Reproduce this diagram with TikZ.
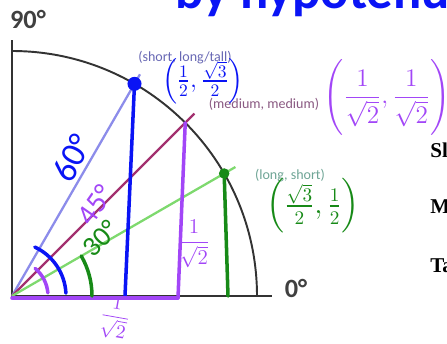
\documentclass[tikz,border=0pt]{standalone}
\usepackage{amsmath}
\usepackage{fontspec}
\setmainfont{Carlito}
\newfontfamily\sideserif{Liberation Serif}
\usetikzlibrary{calc}

\definecolor{rayblue}{HTML}{8C8CEA}
\definecolor{raymag}{HTML}{A3306F}
\definecolor{raygreen}{HTML}{7ED96E}
\definecolor{lblblue}{HTML}{6868B4}
\definecolor{lblmag}{HTML}{8A5A82}
\definecolor{lblgreen}{HTML}{6FA596}
\definecolor{inkblue}{HTML}{0A14F5}
\definecolor{inkviolet}{HTML}{A246F7}
\definecolor{inkgreen}{HTML}{178A17}

\newcommand{\halfsq}{\frac{1}{\sqrt{2}}}
\newcommand{\ptBlue}{$\Bigl(\frac{1}{2},\frac{\sqrt{3}}{2}\Bigr)$}
\newcommand{\ptMed}{$\displaystyle\Biggl(\halfsq,\halfsq\Biggr)$}
\newcommand{\ptGreen}{$\Bigl(\frac{\sqrt{3}}{2},\frac{1}{2}\Bigr)$}
\newcommand{\sideHalf}{$\displaystyle\halfsq$}

\begin{document}
\begin{tikzpicture}[
  x=0.02cm, y=0.02cm,
  axisline/.style = {line width=1.1pt, color=black!80},
  ray/.style      = {line width=1.3pt, color=#1},
  printlbl/.style = {font=\fontsize{8}{9}\selectfont, color=#1, inner sep=0pt},
  deglbl/.style   = {font=\fontsize{15}{17}\selectfont\bfseries, color=black!75, inner sep=0pt},
  sidelbl/.style  = {font=\sideserif\fontsize{12}{14}\selectfont\bfseries, anchor=base west, inner sep=0pt},
  pen/.style      = {line width=2pt, color=#1, line cap=round, line join=round},
  ink/.style      = {color=#1, inner sep=0pt},
  inkdot/.style   = {circle, fill=#1, inner sep=0pt},
]
\useasboundingbox (-12,-47) rectangle (435,296);

%% Axes and quarter circle
\coordinate (O) at (0,0);
\coordinate (yTop) at (0,256);
\coordinate (xEnd) at (260,0);
\coordinate (aTop) at (0,245);
\draw[axisline] (yTop) -- (O) -- (xEnd);
\draw[axisline] (aTop) arc[start angle=90, end angle=0, radius=245];

\node[deglbl] (d90) at (16,277) {90°};
\node[deglbl] (d0)  at (284,8) {0°};

%% Rays through the circle
\coordinate (P60) at (60:245);
\coordinate (P45) at (45:245);
\coordinate (P30) at (30:245);
\coordinate (E60) at (60:256);
\coordinate (E45) at (45:258);
\coordinate (E30) at (30:258);
\draw[ray=rayblue]  (O) -- (E60);
\draw[ray=raymag]   (O) -- (E45);
\draw[ray=raygreen] (O) -- (E30);

\node[printlbl=lblblue]  (lShort) at (173,238) {(short, long/tall)};
\node[printlbl=lblmag]   (lMed)   at (252,192) {(medium, medium)};
\node[printlbl=lblgreen] (lLong)  at (278,120) {(long, short)};

%% Cut-off text at the right edge
\node[sidelbl] (sS) at (418,139) {Sl};
\node[sidelbl] (sM) at (418,83)  {M};
\node[sidelbl] (sT) at (418,24)  {Ta};

%% Handwritten notes
\coordinate (B60) at (113,0);
\coordinate (B45) at (166,-2);
\coordinate (B30) at (216,0);
\coordinate (H0)  at (0,-2);
\draw[pen=inkblue]   (P60) -- (B60);
\draw[pen=inkviolet] (P45) -- (B45);
\draw[pen=inkgreen]  (P30) -- (B30);
\draw[pen=inkviolet] (H0) -- (B45);

\draw[pen=inkblue]   (65:54) arc[start angle=65, end angle=3, radius=54];
\draw[pen=inkgreen]  (30:80) arc[start angle=30, end angle=0, radius=80];
\draw[pen=inkviolet] (50:36) arc[start angle=50, end angle=5, radius=36];

\node[inkdot=inkblue, minimum size=8pt] (dB) at (P60) {};
\node[inkdot=inkgreen, minimum size=6pt] (dG) at (P30) {};

\node[ink=inkblue, anchor=base west, font=\fontsize{30}{32}\selectfont\bfseries] (hyp) at (163,288) {by hypotenuse};
\node[ink=inkblue, font=\fontsize{14}{16}\selectfont] (cB) at (191,215) {\ptBlue};
\node[ink=inkviolet, font=\fontsize{14}{16}\selectfont] (cM) at (375,199) {\ptMed};
\node[ink=inkgreen, font=\fontsize{16}{18}\selectfont] (cG) at (301,90) {\ptGreen};

\node[ink=inkblue, rotate=62, font=\fontsize{20}{22}\selectfont]   (a60) at (60,138) {60°};
\node[ink=inkviolet, rotate=55, font=\fontsize{17}{19}\selectfont] (a45) at (83,91)  {45°};
\node[ink=inkgreen, rotate=45, font=\fontsize{16}{18}\selectfont]  (a30) at (88,58)  {30°};

\node[ink=inkviolet, font=\fontsize{13}{15}\selectfont] (sV) at (182,52) {\sideHalf};
\node[ink=inkviolet, rotate=-10, font=\fontsize{11}{13}\selectfont] (sH) at (103,-22) {\sideHalf};

\end{tikzpicture}
\end{document}
